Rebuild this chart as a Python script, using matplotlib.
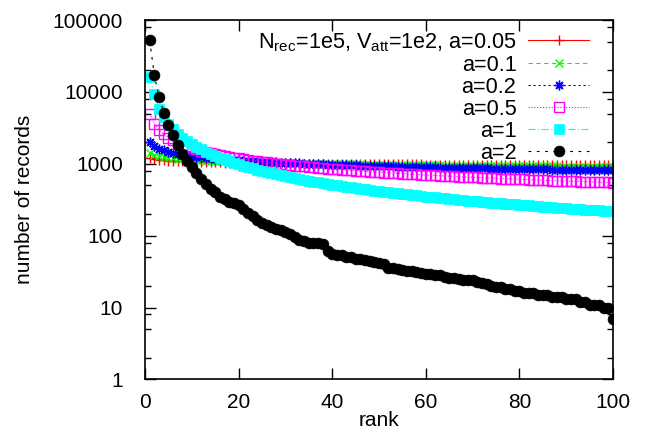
import matplotlib
matplotlib.use('Agg')
import matplotlib.pyplot as plt
from matplotlib.ticker import FixedLocator, NullFormatter, FuncFormatter

plt.rcParams['font.family'] = ['Liberation Sans', 'DejaVu Sans']
plt.rcParams['mathtext.fontset'] = 'custom'
plt.rcParams['mathtext.rm'] = 'Liberation Sans'
plt.rcParams['mathtext.it'] = 'Liberation Sans'

rank = list(range(1, 101))

a005 = [1198, 1157, 1134, 1118, 1105, 1095, 1087, 1080, 1073, 1068,
        1063, 1058, 1054, 1050, 1046, 1043, 1040, 1037, 1034, 1031,
        1029, 1026, 1024, 1022, 1020, 1018, 1016, 1014, 1012, 1011,
        1009, 1007, 1006, 1004, 1003, 1002, 1000, 999, 997, 996,
        995, 994, 993, 991, 990, 989, 988, 987, 986, 985,
        984, 983, 982, 981, 980, 980, 979, 978, 977, 976,
        975, 975, 974, 973, 972, 972, 971, 970, 969, 969,
        968, 967, 967, 966, 965, 965, 964, 964, 963, 962,
        962, 961, 961, 960, 959, 959, 958, 958, 957, 957,
        956, 956, 955, 955, 954, 954, 953, 953, 952, 952]

a01 = [1433, 1337, 1284, 1248, 1220, 1198, 1180, 1164, 1150, 1138,
       1127, 1118, 1109, 1101, 1093, 1086, 1079, 1073, 1068, 1062,
       1057, 1052, 1047, 1043, 1039, 1035, 1031, 1027, 1023, 1020,
       1017, 1013, 1010, 1007, 1004, 1002, 999, 996, 993, 991,
       988, 986, 984, 982, 979, 977, 975, 973, 971, 969,
       967, 965, 963, 962, 960, 958, 957, 955, 953, 952,
       950, 949, 947, 945, 944, 943, 941, 940, 938, 937,
       936, 934, 933, 932, 931, 929, 928, 927, 926, 925,
       923, 922, 921, 920, 919, 918, 917, 916, 915, 914,
       913, 912, 911, 910, 909, 908, 907, 906, 905, 904]

a02 = [2030, 1767, 1630, 1539, 1471, 1419, 1376, 1339, 1308, 1281,
       1257, 1235, 1215, 1198, 1181, 1166, 1152, 1139, 1127, 1115,
       1104, 1094, 1084, 1075, 1066, 1058, 1050, 1043, 1035, 1028,
       1022, 1015, 1009, 1003, 997, 991, 986, 981, 976, 971,
       966, 961, 957, 952, 948, 944, 940, 936, 932, 928,
       925, 921, 918, 914, 911, 907, 904, 901, 898, 895,
       892, 889, 886, 884, 881, 878, 876, 873, 870, 868,
       866, 863, 861, 858, 856, 854, 852, 849, 847, 845,
       843, 841, 839, 837, 835, 833, 831, 829, 827, 825,
       824, 822, 820, 818, 817, 815, 813, 811, 810, 808]

a05 = [5000, 3585, 2950, 2569, 2308, 2114, 1963, 1841, 1740, 1654,
       1580, 1515, 1458, 1407, 1361, 1319, 1281, 1247, 1215, 1185,
       1158, 1132, 1108, 1085, 1064, 1044, 1026, 1008, 991, 975,
       960, 945, 931, 918, 905, 893, 881, 870, 859, 849,
       839, 829, 820, 811, 802, 794, 786, 778, 770, 762,
       755, 748, 741, 735, 728, 722, 716, 710, 704, 698,
       693, 687, 682, 677, 672, 667, 662, 658, 653, 648,
       644, 640, 635, 631, 627, 623, 619, 615, 612, 608,
       604, 601, 597, 594, 591, 587, 584, 581, 578, 574,
       571, 568, 565, 562, 560, 557, 554, 551, 549, 546]

a1 = [16000, 9200, 5760, 4410, 3580, 3024, 2619, 2314, 2074, 1880,
      1721, 1587, 1473, 1375, 1290, 1214, 1148, 1088, 1035, 987,
      942, 901, 864, 830, 798, 769, 742, 717, 694, 672,
      651, 632, 614, 597, 581, 566, 552, 538, 525, 513,
      501, 490, 479, 469, 459, 450, 441, 432, 424, 416,
      408, 401, 394, 387, 380, 374, 368, 362, 356, 350,
      345, 340, 335, 330, 325, 320, 316, 312, 308, 304,
      300, 296, 292, 288, 284, 281, 278, 275, 272, 269,
      266, 263, 260, 257, 254, 251, 248, 245, 242, 240,
      238, 235, 233, 231, 228, 226, 224, 222, 220, 218]

a2 = [52000, 17000, 8600, 5140, 3420, 2480, 1820, 1350, 1090, 890,
      750, 620, 520, 450, 400, 350, 320, 295, 285, 270,
      235, 205, 185, 165, 150, 140, 132, 125, 118, 112,
      105, 95, 87, 84, 80, 79, 78, 76, 62, 56,
      54, 53, 51, 50, 48, 47, 46, 45, 43, 42,
      40, 36, 35, 34, 33, 32, 32, 31, 30, 29,
      29, 28, 28, 27, 26, 26, 25, 24, 24, 24,
      23, 22, 21, 20, 19, 19, 18, 18, 17, 17,
      16, 16, 16, 15, 15, 15, 14, 14, 14, 13,
      13, 13, 12, 12, 11, 11, 11, 10, 10, 7]

labels = [r'N$_{\mathrm{rec}}$=1e5, V$_{\mathrm{att}}$=1e2, a=0.05',
          'a=0.1', 'a=0.2', 'a=0.5', 'a=1', 'a=2']

xticks = [0, 20, 40, 60, 80, 100]
yticks = [1, 10, 100, 1000, 10000, 100000]

FS = 15
LFS = 15.6
W, H = 646, 441
L, R, T, B = 145, 613, 20, 379.4
fig = plt.figure(figsize=(W / 100, H / 100), dpi=100)
ax = fig.add_axes([L / W, (H - B) / H, (R - L) / W, (B - T) / H])

series = [a005, a01, a02, a05, a1, a2]
styles = [
    dict(color='#ff0000', ls='-', marker='+', ms=6.5, mew=1.0),
    dict(color='#00ff00', ls=(0, (4, 3)), marker='x', ms=5.8, mew=1.0),
    dict(color='#0000ff', ls=(0, (2, 2.5)), marker=(8, 2, 0), ms=7.0, mew=1.0),
    dict(color='#ff00ff', ls=(0, (1, 1.6)), marker='s', ms=7.0, mew=1.0,
         mfc='none'),
    dict(color='#00ffff', ls=(0, (6, 2.5, 1, 2.5)), marker='s', ms=7.6, mew=0.5),
    dict(color='#000000', ls=(0, (2.5, 5)), marker='o', ms=7.8, mew=0.5),
]
for ys, st, lab in zip(series, styles, labels):
    ax.plot(rank, ys, lw=0.8, label=lab, **st)

ax.set_yscale('log')
ax.set_xlim(0, 100)
ax.set_ylim(1, 100000)

ax.xaxis.set_major_locator(FixedLocator(xticks))
ax.yaxis.set_major_locator(FixedLocator(yticks))
minors = [m * d for d in [1, 10, 100, 1000, 10000] for m in (2, 5, 8)]
ax.yaxis.set_minor_locator(FixedLocator(minors))
ax.yaxis.set_minor_formatter(NullFormatter())
ax.yaxis.set_major_formatter(FuncFormatter(lambda v, p: '%d' % v))

ax.tick_params(which='both', direction='in', top=True, right=True,
               width=1.0, labelsize=FS, color='black')
ax.tick_params(which='major', length=8)
ax.tick_params(which='minor', length=4.5)
ax.tick_params(axis='y', pad=16)
ax.tick_params(axis='x', pad=10)
for s in ax.spines.values():
    s.set_linewidth(1.2)

ax.set_xlabel('rank', fontsize=FS)
ax.set_ylabel('number of records', fontsize=FS)
ax.xaxis.set_label_coords(0.5, -0.088)
ax.yaxis.set_label_coords(-0.237, 0.5)

leg = ax.legend(loc='upper right', markerfirst=False, frameon=False,
                fontsize=LFS, handlelength=2.8, handletextpad=0.55,
                labelspacing=0.05, borderpad=0, borderaxespad=0,
                bbox_to_anchor=((589 - L) / (R - L), (B - 31) / (B - T)))

fig.savefig('out.png', dpi=100)
